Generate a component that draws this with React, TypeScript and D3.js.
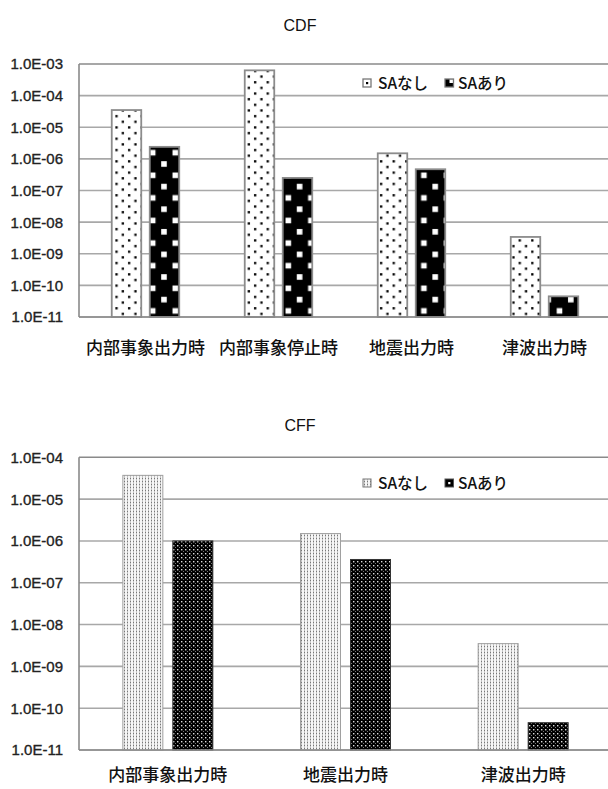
import * as d3 from 'd3';

// chart data
const series = ['SAなし', 'SAあり'];

const cdfCategories = ['内部事象出力時', '内部事象停止時', '地震出力時', '津波出力時'];
const cdfNoSA = [3.5e-5, 6.3e-4, 1.5e-6, 3.4e-9];
const cdfWithSA = [2.4e-6, 2.5e-7, 4.7e-7, 4.5e-11];
const cdfTicks = [1e-3, 1e-4, 1e-5, 1e-6, 1e-7, 1e-8, 1e-9, 1e-10, 1e-11];

const cffCategories = ['内部事象出力時', '地震出力時', '津波出力時'];
const cffNoSA = [3.7e-5, 1.5e-6, 3.5e-9];
const cffWithSA = [1.0e-6, 3.6e-7, 4.5e-11];
const cffTicks = [1e-4, 1e-5, 1e-6, 1e-7, 1e-8, 1e-9, 1e-10, 1e-11];

const fmtTick = (v: number) => {
  const e = Math.round(Math.log10(v));
  const s = String(Math.abs(e)).padStart(2, '0');
  return `1.0E${e < 0 ? '-' : '+'}${s}`;
};

const labelFont = '"Liberation Sans", Arial, sans-serif';
const jpFont = '"Noto Sans CJK JP", "Noto Sans", sans-serif';

type ChartProps = {
  title: string;
  titleY: number;
  categories: string[];
  noSA: number[];
  withSA: number[];
  ticks: number[];
  top: number;
  bottom: number;
  left: number;
  right: number;
  barW: number;
  barGap: number;
  fills: string[];
  strokes: string[];
  strokeW: number[];
  legendY: number;
  legendMarks: ((x: number, y: number) => JSX.Element)[];
  labelY: number;
};

function Chart(p: ChartProps) {
  const y = d3
    .scaleLog()
    .domain([p.ticks[p.ticks.length - 1], p.ticks[0]])
    .range([p.bottom, p.top]);
  const x0 = d3.scaleBand().domain(p.categories).range([p.left, p.right]);
  const step = p.barW + p.barGap;
  const pi = p.barGap / step;
  const po = (x0.bandwidth() - 2 * p.barW - p.barGap) / 2 / step;
  const x1 = d3
    .scaleBand()
    .domain(series)
    .range([0, x0.bandwidth()])
    .paddingInner(pi)
    .paddingOuter(po);
  const values = [p.noSA, p.withSA];

  return (
    <g>
      <text
        x={300}
        y={p.titleY}
        textAnchor="middle"
        fontFamily={labelFont}
        fontSize={16}
        fill="#111"
      >
        {p.title}
      </text>

      {/* gridlines */}
      {p.ticks.map((t, i) => (
        <line
          key={'g' + i}
          x1={p.left}
          x2={p.right}
          y1={y(t)}
          y2={y(t)}
          stroke={i === 0 ? '#8a8a8a' : '#a8a8a8'}
          strokeWidth={1.6}
        />
      ))}
      {p.ticks.map((t, i) => (
        <text
          key={'t' + i}
          x={63}
          y={y(t)}
          dy="0.36em"
          textAnchor="end"
          fontFamily={labelFont}
          fontSize={15}
          fill="#222"
          stroke="#222"
          strokeWidth={0.35}
        >
          {fmtTick(t)}
        </text>
      ))}

      {/* bars */}
      {series.map((s, si) =>
        p.categories.map((c, ci) => {
          const v = values[si][ci];
          const bx = (x0(c) as number) + (x1(s) as number);
          return (
            <rect
              key={s + c}
              x={bx}
              y={y(v)}
              width={x1.bandwidth()}
              height={p.bottom - y(v)}
              fill={p.fills[si]}
              stroke={p.strokes[si]}
              strokeWidth={p.strokeW[si]}
            />
          );
        }),
      )}

      {/* axes */}
      <line
        x1={p.left}
        x2={p.left}
        y1={p.top}
        y2={p.bottom}
        stroke="#8a8a8a"
        strokeWidth={1.6}
      />
      <line
        x1={p.left}
        x2={p.right}
        y1={p.bottom}
        y2={p.bottom}
        stroke="#8a8a8a"
        strokeWidth={1.6}
      />

      {p.categories.map((c) => (
        <text
          key={'c' + c}
          x={(x0(c) as number) + x0.bandwidth() / 2}
          y={p.labelY}
          textAnchor="middle"
          fontFamily={jpFont}
          fontWeight={500}
          fontSize={17}
          fill="#111"
        >
          {c}
        </text>
      ))}

      {/* legend */}
      {p.legendMarks[0](363, p.legendY)}
      <text x={378} y={p.legendY} dy="0.36em" fontFamily={jpFont} fontWeight={500} fontSize={15.5} fill="#111">
        {series[0]}
      </text>
      {p.legendMarks[1](445, p.legendY)}
      <text x={458} y={p.legendY} dy="0.36em" fontFamily={jpFont} fontWeight={500} fontSize={15.5} fill="#111">
        {series[1]}
      </text>
    </g>
  );
}

export default function App() {
  return (
    <div>
      <svg
        width={608}
        height={789}
        style={{ position: 'absolute', left: 0, top: 0, background: '#fff' }}
      >
        <defs>
          <pattern id="dotsWhite" patternUnits="userSpaceOnUse" width={12.6} height={11.3}>
            <rect width={12.6} height={11.3} fill="#fff" />
            <rect x={2} y={2} width={2.3} height={2.3} fill="#000" />
            <rect x={8.3} y={7.65} width={2.3} height={2.3} fill="#000" />
          </pattern>
          <pattern id="squaresBlack" patternUnits="userSpaceOnUse" width={22.6} height={22.6}>
            <rect width={22.6} height={22.6} fill="#000" />
            <rect x={3} y={3} width={5.6} height={5.6} fill="#fff" />
            <rect x={14.3} y={14.3} width={5.6} height={5.6} fill="#fff" />
          </pattern>
          <pattern id="meshLight" patternUnits="userSpaceOnUse" width={3} height={3}>
            <rect width={3} height={3} fill="#f6f6f6" />
            <rect x={1} width={1} height={3} fill="#c4c4c4" />
            <rect x={1} y={1} width={1} height={1} fill="#777" />
          </pattern>
          <pattern id="dotsDark" patternUnits="userSpaceOnUse" width={4} height={4}>
            <rect width={4} height={4} fill="#000" />
            <rect x={1} y={1} width={1.4} height={1.4} fill="#ddd" />
            <rect x={3} y={3} width={1} height={1} fill="#777" />
          </pattern>
        </defs>

        <Chart
          title="CDF"
          titleY={31}
          categories={cdfCategories}
          noSA={cdfNoSA}
          withSA={cdfWithSA}
          ticks={cdfTicks}
          top={64}
          bottom={317}
          left={79}
          right={611}
          barW={29.5}
          barGap={8.5}
          fills={['url(#dotsWhite)', 'url(#squaresBlack)']}
          strokes={['#8c8c8c', '#8c8c8c']}
          strokeW={[1.8, 1.8]}
          legendY={83}
          legendMarks={[
            (x, y) => (
              <g key="m0">
                <rect x={x} y={y - 4} width={8} height={8} fill="#fff" stroke="#777" strokeWidth={1.3} />
                <rect x={x + 3} y={y - 1} width={2.2} height={2.2} fill="#000" />
              </g>
            ),
            (x, y) => (
              <g key="m1">
                <rect x={x} y={y - 4} width={8.5} height={8} fill="#000" stroke="#777" strokeWidth={1.3} />
                <rect x={x + 4.5} y={y - 3.4} width={3.4} height={3.4} fill="#fff" />
              </g>
            ),
          ]}
          labelY={354}
        />

        <Chart
          title="CFF"
          titleY={431}
          categories={cffCategories}
          noSA={cffNoSA}
          withSA={cffWithSA}
          ticks={cffTicks}
          top={457.3}
          bottom={750}
          left={79}
          right={612}
          barW={40}
          barGap={10}
          fills={['url(#meshLight)', 'url(#dotsDark)']}
          strokes={['#a0a0a0', '#333']}
          strokeW={[1, 1]}
          legendY={483}
          legendMarks={[
            (x, y) => (
              <g key="m0">
                <rect x={x} y={y - 4} width={8} height={8} fill="url(#meshLight)" stroke="#777" strokeWidth={1} />
              </g>
            ),
            (x, y) => (
              <g key="m1">
                <rect x={x} y={y - 4} width={8.5} height={8} fill="#000" stroke="#555" strokeWidth={1} />
                <rect x={x + 3.2} y={y - 1} width={2.2} height={2.2} fill="#fff" />
              </g>
            ),
          ]}
          labelY={781}
        />
      </svg>
    </div>
  );
}
